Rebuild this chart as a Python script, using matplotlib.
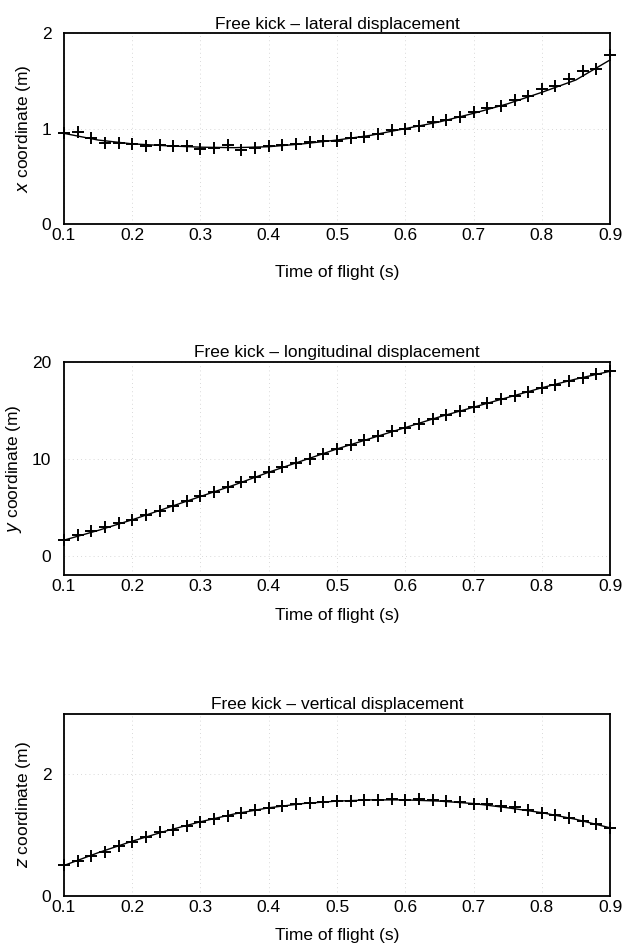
import matplotlib
matplotlib.use('Agg')
import matplotlib.pyplot as plt
import numpy as np

plt.rcParams['font.family'] = ['Liberation Sans', 'DejaVu Sans']

# measured times (s), one marker every 0.02 s
t = np.round(np.arange(0.10, 0.901, 0.02), 2)

# lateral displacement x (m) - markers
x_meas = [0.95, 0.96, 0.90, 0.85, 0.85, 0.84, 0.82, 0.83, 0.82, 0.82,
          0.79, 0.80, 0.83, 0.78, 0.80, 0.82, 0.83, 0.84, 0.86, 0.87,
          0.87, 0.90, 0.91, 0.94, 0.98, 1.00, 1.03, 1.07, 1.09, 1.12,
          1.17, 1.22, 1.24, 1.30, 1.34, 1.41, 1.45, 1.52, 1.60, 1.63, 1.77]
# longitudinal displacement y (m) - markers
y_meas = [1.6, 2.1, 2.5, 3.0, 3.4, 3.7, 4.2, 4.6, 5.1, 5.6,
          6.1, 6.6, 7.1, 7.6, 8.1, 8.6, 9.1, 9.6, 10.0, 10.5,
          11.0, 11.4, 11.9, 12.3, 12.8, 13.2, 13.6, 14.1, 14.5, 14.9,
          15.3, 15.7, 16.1, 16.5, 16.9, 17.3, 17.6, 18.0, 18.3, 18.7, 19.0]
# vertical displacement z (m) - markers
z_meas = [0.50, 0.58, 0.66, 0.73, 0.82, 0.88, 0.97, 1.05, 1.09, 1.15,
          1.21, 1.26, 1.31, 1.36, 1.41, 1.45, 1.48, 1.51, 1.53, 1.54,
          1.57, 1.56, 1.58, 1.58, 1.59, 1.58, 1.59, 1.58, 1.56, 1.54,
          1.52, 1.51, 1.48, 1.46, 1.42, 1.37, 1.33, 1.28, 1.23, 1.18, 1.12]

# fitted curves every 0.05 s
t_fit = np.round(np.arange(0.10, 0.901, 0.05), 2)
x_fit = [0.95, 0.88, 0.84, 0.82, 0.805, 0.80, 0.81, 0.84, 0.88, 0.93,
         1.00, 1.07, 1.16, 1.26, 1.38, 1.51, 1.72]
y_fit = [1.6, 2.6, 3.7, 4.9, 6.1, 7.3, 8.6, 9.8, 11.0, 12.1,
         13.2, 14.3, 15.3, 16.3, 17.3, 18.2, 19.0]
z_fit = [0.50, 0.71, 0.90, 1.07, 1.22, 1.35, 1.45, 1.52, 1.56, 1.58,
         1.58, 1.56, 1.52, 1.45, 1.37, 1.26, 1.12]

panels = [
    ('Free kick \u2013 lateral displacement', '$x$ coordinate (m)', x_meas, x_fit, (0, 2), [0, 1, 2], 16),
    ('Free kick \u2013 longitudinal displacement', '$y$ coordinate (m)', y_meas, y_fit, (-2, 20), [0, 10, 20], 10),
    ('Free kick \u2013 vertical displacement', '$z$ coordinate (m)', z_meas, z_fit, (0, 3), [0, 2], 9),
]

fig = plt.figure(figsize=(6.27, 9.49), dpi=100)
boxes = [(0.764, 0.965), (0.394, 0.619), (0.056, 0.248)]

for (title, ylab, meas, fit, ylim, yticks, xpad), (b, tp) in zip(panels, boxes):
    ax = fig.add_axes([0.102, b, 0.871, tp - b])
    ax.plot(t_fit, fit, color='black', lw=1.0)
    ax.plot(t, meas, ls='none', marker='+', ms=8, mew=1.4, color='black', clip_on=False)
    ax.set_xlim(0.1, 0.9)
    ax.set_ylim(*ylim)
    ax.set_xticks([0.1, 0.2, 0.3, 0.4, 0.5, 0.6, 0.7, 0.8, 0.9])
    ax.set_yticks(yticks)
    ax.tick_params(axis='x', length=0, labelsize=12.5, pad=3)
    ax.tick_params(axis='y', length=0, labelsize=12.5, pad=9)
    ax.grid(True, ls=(0, (1, 4)), lw=0.6, color='#cccccc')
    for s in ax.spines.values():
        s.set_linewidth(1.3)
    ax.set_title(title, fontsize=12.5, pad=3)
    ax.set_ylabel(ylab, fontsize=12.5, labelpad=6)
    ax.set_xlabel('Time of flight (s)', fontsize=12.5, labelpad=xpad)

fig.savefig('out.png', dpi=100)
